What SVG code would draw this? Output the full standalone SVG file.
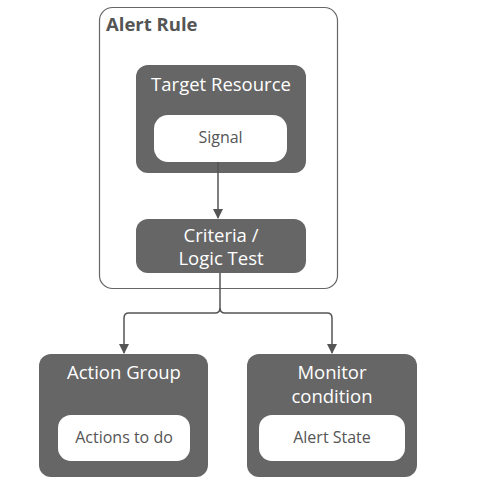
<svg xmlns="http://www.w3.org/2000/svg" width="492" height="482" viewBox="0 0 492 482">
<style>
.dark{fill:#666666;}
.light{fill:#ffffff;}
.t{font-family:"Open Sans","Noto Sans","Liberation Sans",sans-serif;fill:#ffffff;font-size:18.5px;text-anchor:middle;}
.s{font-family:"Open Sans","Noto Sans","Liberation Sans",sans-serif;fill:#555555;font-size:16px;text-anchor:middle;}
.c{fill:none;stroke:#555555;stroke-width:1.5;}
</style>
<defs>
<marker id="ah" markerWidth="10" markerHeight="10" refX="9" refY="5" orient="auto" markerUnits="userSpaceOnUse">
<path d="M0,0 L10,5 L0,10 z" fill="#555555"/>
</marker>
</defs>
<rect width="492" height="482" fill="#ffffff"/>
<g id="alert-rule">
<rect x="99.5" y="7.5" width="238" height="281" rx="13" fill="#ffffff" stroke="#666666" stroke-width="1.2"/>
<text x="106" y="31" font-family="Open Sans,Noto Sans,Liberation Sans,sans-serif" font-weight="bold" font-size="18.5" fill="#555555">Alert Rule</text>
</g>
<g id="target-resource">
<rect class="dark" x="136" y="65" width="170" height="108" rx="12"/>
<text class="t" x="221" y="91">Target Resource</text>
</g>
<g id="signal">
<rect class="light" x="154" y="115" width="133" height="47" rx="14"/>
<text class="s" x="220.5" y="143">Signal</text>
</g>
<g id="criteria">
<rect class="dark" x="136" y="219" width="170" height="54" rx="12"/>
<text class="t" x="221" y="242">Criteria /</text>
<text class="t" x="221" y="265">Logic Test</text>
</g>
<g id="action-group">
<rect class="dark" x="39" y="354" width="169" height="123" rx="12"/>
<text class="t" x="124" y="379">Action Group</text>
</g>
<g id="actions-to-do">
<rect class="light" x="58" y="415" width="132" height="46" rx="13"/>
<text class="s" x="124" y="443">Actions to do</text>
</g>
<g id="monitor-condition">
<rect class="dark" x="247" y="354" width="170" height="123" rx="12"/>
<text class="t" x="332" y="379">Monitor</text>
<text class="t" x="332" y="403">condition</text>
</g>
<g id="alert-state">
<rect class="light" x="259" y="415" width="146" height="46" rx="13"/>
<text class="s" x="332" y="443">Alert State</text>
</g>
<g id="connectors">
<path class="c" d="M218,162 V218" marker-end="url(#ah)"/>
<path class="c" d="M220,273 V308 Q220,313 215,313 H129 Q124,313 124,318 V353" marker-end="url(#ah)"/>
<path class="c" d="M220,308 Q220,313 225,313 H327 Q332,313 332,318 V353" marker-end="url(#ah)"/>
</g>
</svg>
